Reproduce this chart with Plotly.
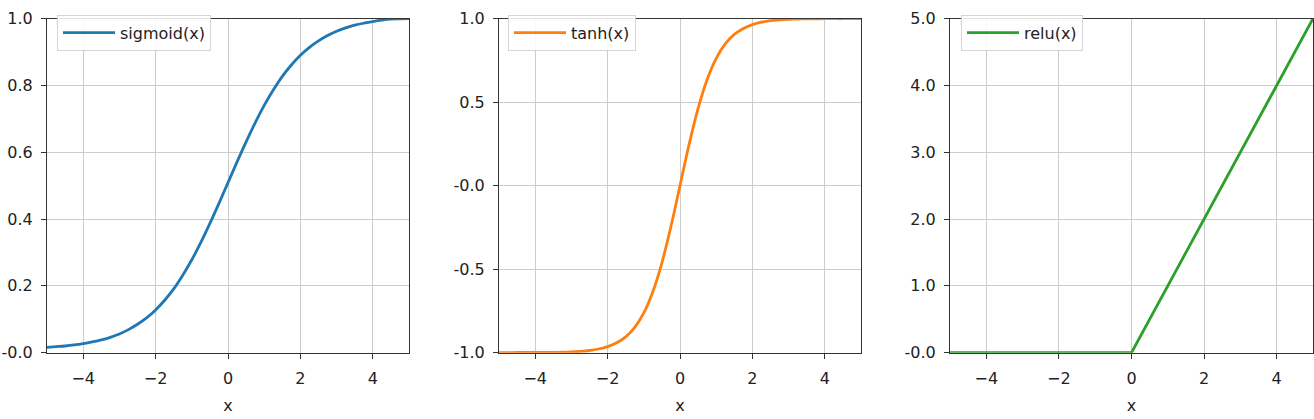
import plotly.graph_objects as go

# ---- data ----
x_vals = [-5.0, -4.75, -4.5, -4.25, -4.0, -3.75, -3.5, -3.25, -3.0, -2.75, -2.5, -2.25,
          -2.0, -1.75, -1.5, -1.25, -1.0, -0.75, -0.5, -0.25, 0.0, 0.25, 0.5, 0.75,
          1.0, 1.25, 1.5, 1.75, 2.0, 2.25, 2.5, 2.75, 3.0, 3.25, 3.5, 3.75, 4.0,
          4.25, 4.5, 4.75, 5.0]
sigmoid_vals = [0.016, 0.018, 0.020, 0.023, 0.027, 0.032, 0.038, 0.046, 0.056, 0.069, 0.085,
                0.104, 0.128, 0.157, 0.191, 0.232, 0.278, 0.330, 0.387, 0.447, 0.509, 0.571,
                0.631, 0.688, 0.740, 0.786, 0.827, 0.861, 0.890, 0.914, 0.933, 0.949, 0.962,
                0.972, 0.980, 0.986, 0.991, 0.995, 0.998, 0.999, 1.000]
tanh_vals = [-1.000, -1.000, -0.999, -0.999, -0.999, -0.998, -0.998, -0.997, -0.995, -0.992,
             -0.987, -0.978, -0.964, -0.941, -0.905, -0.848, -0.762, -0.635, -0.462, -0.245,
             0.000, 0.245, 0.462, 0.635, 0.762, 0.848, 0.905, 0.941, 0.964, 0.978, 0.987,
             0.992, 0.995, 0.997, 0.998, 0.998, 0.999, 0.999, 0.999, 1.000, 1.000]
relu_x = [-5.0, 0.0, 5.0]
relu_vals = [0.0, 0.0, 5.0]

series_names = ["sigmoid(x)", "tanh(x)", "relu(x)"]
series_colors = ["#1f77b4", "#ff7f0e", "#2ca02c"]

x_tickvals = [-4, -2, 0, 2, 4]
x_ticktext = ["\u22124", "\u22122", "0", "2", "4"]

y1_tickvals = [0, 0.2, 0.4, 0.6, 0.8, 1.0]
y1_ticktext = ["-0.0", "0.2", "0.4", "0.6", "0.8", "1.0"]
y2_tickvals = [-1.0, -0.5, 0.0, 0.5, 1.0]
y2_ticktext = ["-1.0", "-0.5", "-0.0", "0.5", "1.0"]
y3_tickvals = [0, 1, 2, 3, 4, 5]
y3_ticktext = ["-0.0", "1.0", "2.0", "3.0", "4.0", "5.0"]

W, H = 1314, 419
FONT = "DejaVu Sans"
TXT = "#222222"
FS = 16

fig = go.Figure()

fig.add_trace(go.Scatter(x=x_vals, y=sigmoid_vals, mode="lines", name=series_names[0],
                         line=dict(color=series_colors[0], width=2.8, shape="spline"),
                         xaxis="x", yaxis="y", legend="legend"))
fig.add_trace(go.Scatter(x=x_vals, y=tanh_vals, mode="lines", name=series_names[1],
                         line=dict(color=series_colors[1], width=2.8, shape="spline"),
                         xaxis="x2", yaxis="y2", legend="legend2"))
fig.add_trace(go.Scatter(x=relu_x, y=relu_vals, mode="lines", name=series_names[2],
                         line=dict(color=series_colors[2], width=2.8),
                         xaxis="x3", yaxis="y3", legend="legend3"))

# plot-area pixel boxes
boxes = [(47, 409), (499, 861), (950, 1313)]
top_px, bot_px = 10, 360
ydom = [(H - bot_px) / H, (H - top_px) / H]

def xaxis_cfg(dom, anchor):
    return dict(domain=[dom[0] / W, dom[1] / W], anchor=anchor, range=[-5, 5],
                tickvals=x_tickvals, ticktext=x_ticktext,
                showline=True, mirror=True, linecolor="#333333", linewidth=1,
                showgrid=True, gridcolor="#cccccc", gridwidth=1, zeroline=False,
                ticks="outside", ticklen=5, tickcolor="#333333", ticklabelstandoff=6,
                tickfont=dict(family=FONT, size=FS, color=TXT),
                title=dict(text="x", font=dict(family=FONT, size=FS, color=TXT), standoff=12))

def yaxis_cfg(anchor, rng, tv, tt):
    return dict(domain=ydom, anchor=anchor, range=rng, tickvals=tv, ticktext=tt,
                showline=True, mirror=True, linecolor="#333333", linewidth=1,
                showgrid=True, gridcolor="#cccccc", gridwidth=1, zeroline=False,
                ticks="outside", ticklen=5, tickcolor="#333333", ticklabelstandoff=5,
                tickfont=dict(family=FONT, size=FS, color=TXT))

def legend_cfg(px, py):
    return dict(x=px / W, y=(H - py) / H, xanchor="left", yanchor="top",
                bgcolor="rgba(255,255,255,0.85)", bordercolor="#d5d5d5", borderwidth=1,
                font=dict(family=FONT, size=FS, color=TXT), itemwidth=52)

fig.update_layout(
    width=W, height=H, margin=dict(l=0, r=0, t=0, b=0),
    paper_bgcolor="white", plot_bgcolor="white", showlegend=True,
    xaxis=xaxis_cfg(boxes[0], "y"),
    xaxis2=xaxis_cfg(boxes[1], "y2"),
    xaxis3=xaxis_cfg(boxes[2], "y3"),
    yaxis=yaxis_cfg("x", [0, 1.0], y1_tickvals, y1_ticktext),
    yaxis2=yaxis_cfg("x2", [-1.0, 1.0], y2_tickvals, y2_ticktext),
    yaxis3=yaxis_cfg("x3", [0, 5.0], y3_tickvals, y3_ticktext),
    legend=legend_cfg(57, 6),
    legend2=legend_cfg(508, 6),
    legend3=legend_cfg(961, 6),
)

fig.write_html("out.html")
